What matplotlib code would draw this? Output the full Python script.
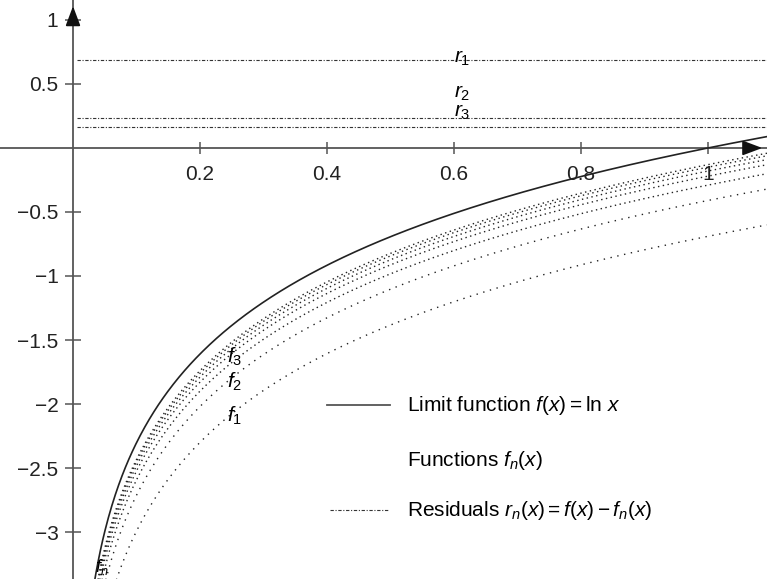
import numpy as np
import matplotlib
matplotlib.use("Agg")
import matplotlib.pyplot as plt

plt.rcParams["font.family"] = ["Liberation Sans", "DejaVu Sans"]
plt.rcParams["mathtext.fontset"] = "custom"
plt.rcParams["mathtext.rm"] = "Liberation Sans"
plt.rcParams["mathtext.it"] = "Liberation Sans:italic"
plt.rcParams["font.size"] = 15

# --- data ---
# constant gaps between ln x and the approximating functions f_n
f_offsets = [0.69, 0.41, 0.29, 0.22, 0.18, 0.15, 0.13]
f_labels = ["$f_1$", "$f_2$", "$f_3$"]
f_label_y = [-2.09, -1.83, -1.63]
# residual lines that are drawn
r_values = [0.69, 0.232, 0.162]
# residual labels
r_labels = ["$r_1$", "$r_2$", "$r_3$"]
r_label_y = [0.70, 0.43, 0.28]
x_ticks = [0.2, 0.4, 0.6, 0.8, 1.0]
x_ticklabels = ["0.2", "0.4", "0.6", "0.8", "1"]
y_ticks = [1, 0.5, -0.5, -1, -1.5, -2, -2.5, -3]
y_ticklabels = ["1", "0.5", "\u22120.5", "\u22121", "\u22121.5", "\u22122", "\u22122.5", "\u22123"]

axis_col = "#555555"
ink = "#222222"

fig = plt.figure(figsize=(7.67, 5.79), dpi=100)
ax = fig.add_axes([0, 0, 1, 1])
ax.set_xlim(-0.115, 1.093)
ax.set_ylim(-3.367, 1.156)

x = np.linspace(0.02, 1.093, 600)
lnx = np.log(x)

# limit function
ax.plot(x, lnx, color=ink, lw=1.2, zorder=3)

# approximating functions, dotted
for k, off in enumerate(f_offsets):
    style = (0, (1, 4)) if k < 2 else (0, (1, 2.5))
    ax.plot(x, lnx - off, color=ink, lw=1.0, linestyle=style, zorder=2)

# residuals, fine dash-dot
for r in r_values:
    ax.plot([0.006, 1.093], [r, r], color="#333333", lw=0.8,
            linestyle=(0, (3, 1.5, 1, 1.5)), zorder=2)

for lab, yy in zip(f_labels, f_label_y):
    ax.text(0.255, yy, lab, ha="center", va="center", fontsize=15, zorder=4)
ax.text(0.045, -3.27, "$f_n$", ha="center", va="center", fontsize=13)
for lab, yy in zip(r_labels, r_label_y):
    ax.text(0.613, yy, lab, ha="center", va="center", fontsize=15, zorder=4)

# axes through the origin
for side in ["top", "right"]:
    ax.spines[side].set_visible(False)
ax.spines["left"].set_position(("data", 0))
ax.spines["bottom"].set_position(("data", 0))
for side in ["left", "bottom"]:
    ax.spines[side].set_color(axis_col)
    ax.spines[side].set_linewidth(1.3)

ax.set_xticks(x_ticks)
ax.set_xticklabels(x_ticklabels)
ax.set_yticks(y_ticks)
ax.set_yticklabels(y_ticklabels)
ax.tick_params(axis="x", direction="inout", length=9, width=1.1,
               color=axis_col, pad=8, labelsize=15, labelcolor=ink)
ax.tick_params(axis="y", direction="inout", length=11, width=1.1,
               color=axis_col, pad=5, labelsize=15, labelcolor=ink)

# arrow heads
ax.annotate("", xy=(1.09, 0), xytext=(1.06, 0),
            arrowprops=dict(arrowstyle="-|>,head_length=0.8,head_width=0.3",
                            color="#111111", lw=1.3))
ax.annotate("", xy=(0, 1.13), xytext=(0, 1.0),
            arrowprops=dict(arrowstyle="-|>,head_length=0.8,head_width=0.3",
                            color="#111111", lw=1.3))

# legend drawn by hand
ax.plot([0.40, 0.50], [-2.01, -2.01], color=axis_col, lw=1.3)
ax.text(0.526, -2.01, "Limit function $f(x) = \\ln\\,x$", va="center", fontsize=15)
ax.text(0.526, -2.445, "Functions $f_n(x)$", va="center", fontsize=15)
ax.plot([0.405, 0.497], [-2.83, -2.83], color="#333333", lw=0.8,
        linestyle=(0, (3, 1.5, 1, 1.5)))
ax.text(0.526, -2.83, "Residuals $r_n(x) = f(x) - f_n(x)$", va="center", fontsize=15)

fig.savefig("out.png", dpi=100)
